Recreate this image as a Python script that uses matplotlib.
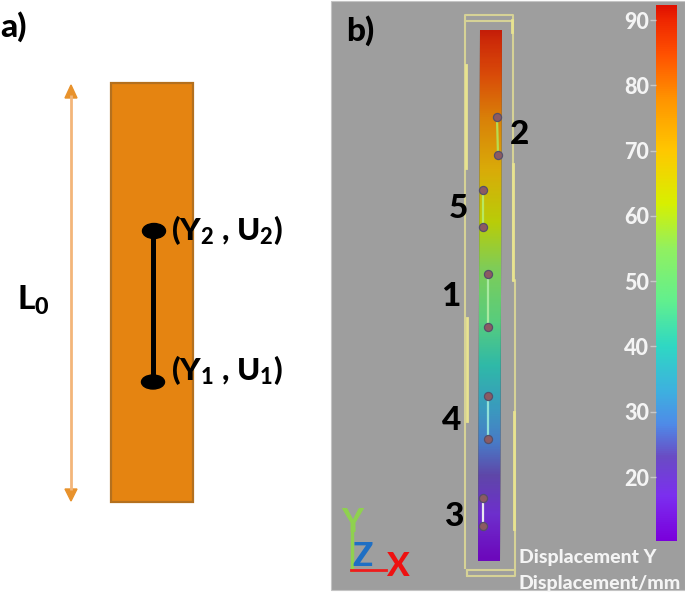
import numpy as np
import matplotlib
matplotlib.use('Agg')
import matplotlib.pyplot as plt
from matplotlib.colors import LinearSegmentedColormap, Normalize
from matplotlib.patches import Rectangle, Ellipse, Polygon

plt.rcParams['font.family'] = ['Lato', 'DejaVu Sans']
plt.rcParams['mathtext.fontset'] = 'custom'
plt.rcParams['mathtext.rm'] = 'Lato:weight=900'
plt.rcParams['mathtext.default'] = 'rm'

# values
cbar_ticks = [20, 30, 40, 50, 60, 70, 80, 90]
cbar_min = 10.2
cbar_max = 92.3
cmap_values = [10.2, 17, 23, 28, 33, 40, 47, 55, 62, 70, 78, 85, 90, 92.3]
cmap_colors = ['#7a00dc', '#7c2ff0', '#6a4cc4', '#4f8be8', '#3eb0e0', '#2fd8c4', '#62f08e',
               '#92f060', '#d8f000', '#ffc800', '#ff9400', '#ff5000', '#f02800', '#e01000']

gauge_names = ['2', '5', '1', '4', '3']
gauge_top_x = [497, 483.5, 488.5, 488.5, 483]
gauge_top_y = [117, 189.5, 274, 395.5, 498]
gauge_bot_x = [498, 483.5, 488.5, 488.5, 483]
gauge_bot_y = [155, 227, 327, 438.5, 526]
gauge_line_colors = ['#b8dc50', '#b8e860', '#a8e8a0', '#90e0d8', '#e8e8f0']
name_x = [520, 458, 451, 452, 454]
name_y = [134, 208, 297, 421, 516]

fig = plt.figure(figsize=(6.85, 5.93), dpi=100)
ax = fig.add_axes([0, 0, 1, 1])
ax.set_xlim(0, 685)
ax.set_ylim(593, 0)
ax.axis('off')

cmap = LinearSegmentedColormap.from_list(
    'disp', [((v - cbar_min) / (cbar_max - cbar_min), c) for v, c in zip(cmap_values, cmap_colors)])
norm = Normalize(cbar_min, cbar_max)

# a) schematic
ax.text(0, 27, 'a)', fontsize=24, fontweight=900, va='center', ha='left')
ax.add_patch(Rectangle((111, 83), 82, 419, fc='#e58411', ec='#b4701e', lw=1.6))
ax.plot([71, 71], [95, 490], color='#f3b67a', lw=2, solid_capstyle='butt')
ax.add_patch(Polygon([[71, 85], [65, 98], [77, 98]], color='#e8922c'))
ax.add_patch(Polygon([[71, 501], [65, 489], [77, 489]], color='#e8922c'))
ax.plot([153, 153], [231, 382], color='black', lw=3.6, solid_capstyle='butt')
ax.add_patch(Ellipse((154, 231), 23, 15, color='black'))
ax.add_patch(Ellipse((153, 382), 23, 14, color='black'))
ax.text(171, 230, r'(Y$_{2}$ , U$_{2}$)', fontsize=22.5, fontweight=900, va='center')
ax.text(171, 370, r'(Y$_{1}$ , U$_{1}$)', fontsize=22.5, fontweight=900, va='center')
ax.text(17, 300, r'L$_{0}$', fontsize=24, fontweight=900, va='center')

# b) panel background
ax.add_patch(Rectangle((331, 1), 354, 589, fc='#9e9e9e', ec='#c4c4c4', lw=0.8))
ax.text(346, 31, 'b)', fontsize=24, fontweight=900, va='center')

# specimen outline
frame = '#d6d296'
bright = '#e8e390'
ax.plot([465, 465, 513, 513], [568, 15, 15, 280], color=frame, lw=1.5)
ax.plot([465, 513], [21, 21], color=frame, lw=1.5)
ax.plot([513, 515, 515], [280, 280, 570], color=frame, lw=1.5)
ax.plot([467, 467, 515, 515, 467, 467], [570, 576, 576, 570, 570, 576], color=frame, lw=1.5)
ax.plot([466, 466], [65, 168], color=bright, lw=2)
ax.plot([513.5, 513.5], [164, 280], color=bright, lw=2)
ax.plot([467, 467], [318, 421], color=bright, lw=2)
ax.plot([514.5, 514.5], [412, 529], color=bright, lw=2)
ax.plot([512, 512], [20, 32], color=bright, lw=2)

# specimen coloured by displacement
grad = np.linspace(cbar_max - 1, cbar_min, 256).reshape(-1, 1)
im = ax.imshow(grad, cmap=cmap, norm=norm, extent=(478, 502, 561, 30), aspect='auto', zorder=2, alpha=0.82)
strip = Polygon([[480, 30], [502, 30], [500, 561], [478, 561]], transform=ax.transData, fc='none', ec='none')
ax.add_patch(strip)
im.set_clip_path(strip)
ax.add_patch(Polygon([[480, 30], [502, 30], [500, 561], [478, 561]], fc='#303030', ec='none', zorder=1))

# gauges
for i in range(len(gauge_names)):
    ax.plot([gauge_top_x[i], gauge_bot_x[i]], [gauge_top_y[i], gauge_bot_y[i]],
            color=gauge_line_colors[i], lw=1.6, zorder=3)
    ax.scatter([gauge_top_x[i], gauge_bot_x[i]], [gauge_top_y[i], gauge_bot_y[i]],
               s=34, c='#8c5a62', edgecolors='#55506a', linewidths=0.9, zorder=4)
    ax.text(name_x[i], name_y[i], gauge_names[i], fontsize=24, fontweight=900,
            ha='center', va='center', zorder=5)

# colour bar
cax = fig.add_axes([656 / 685, 1 - 541 / 593, 21 / 685, 536 / 593])
cax.imshow(np.linspace(cbar_max, cbar_min, 512).reshape(-1, 1), cmap=cmap, norm=norm,
           aspect='auto', extent=(0, 1, cbar_min, cbar_max))
cax.set_xticks([])
cax.yaxis.set_ticks(cbar_ticks)
cax.tick_params(axis='y', length=4, width=1, color='#c8c8c8', labelcolor='#f4f4f4',
                labelsize=15.5, pad=1)
for lab in cax.get_yticklabels():
    lab.set_fontweight(900)
for s in cax.spines.values():
    s.set_visible(False)

# axis triad
ax.plot([352, 352], [533, 570], color='#8fd14f', lw=2.5)
ax.plot([351, 386], [570, 570], color='#ee1c1c', lw=2)
ax.text(352, 522, 'Y', color='#8fd14f', fontsize=24, fontweight=900, ha='center', va='center')
ax.text(363, 557, 'Z', color='#1f6fc4', fontsize=24, fontweight=900, ha='center', va='center')
ax.text(397, 566, 'X', color='#ee1111', fontsize=24, fontweight=900, ha='center', va='center')

ax.text(519, 557, 'Displacement Y', color='#f4f4f4', fontsize=14, fontweight=900, va='center')
ax.text(519, 583, 'Displacement/mm', color='#f4f4f4', fontsize=14, fontweight=900, va='center')

fig.savefig('out.png', dpi=100)
